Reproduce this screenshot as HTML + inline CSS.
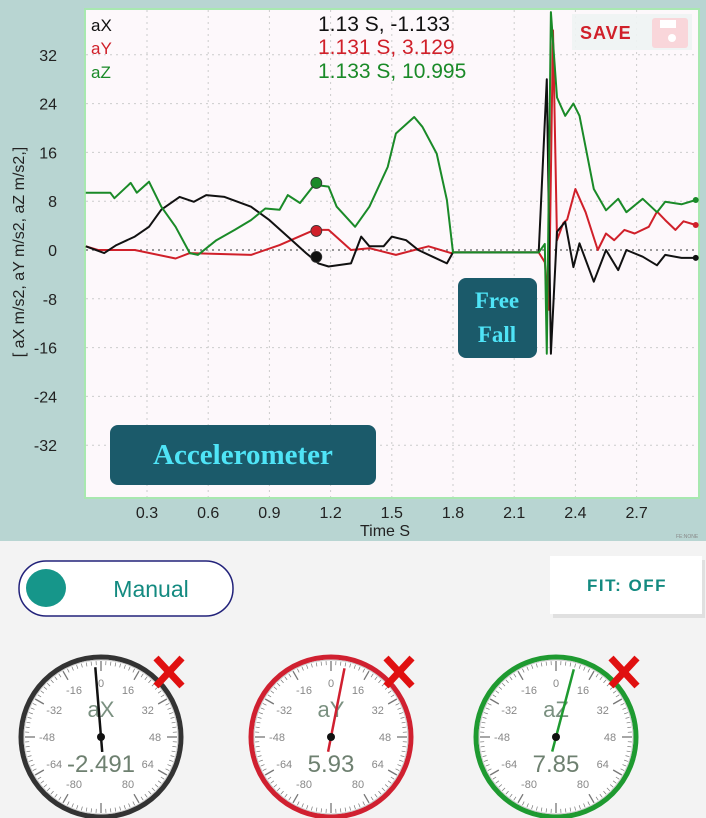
<!DOCTYPE html>
<html><head><meta charset="utf-8"><style>
html,body{margin:0;padding:0;width:706px;height:818px;overflow:hidden;background:#f3f3f3;font-family:"Liberation Sans",sans-serif}
svg{position:absolute;left:0;top:0}
</style></head><body>
<svg width="706" height="818">
<rect x="0" y="0" width="706" height="541" fill="#b8d5d2"/>
<rect x="85" y="9" width="614" height="489" fill="#fdf8fb" stroke="#a8e8b0" stroke-width="2"/>
<g id="grid"></g>
<g id="yticks"></g>
<g id="xticks"></g>
<text x="385" y="536" font-size="16" text-anchor="middle" fill="#222">Time S</text>
<text transform="translate(24,252) rotate(-90)" font-size="16" text-anchor="middle" fill="#222">[ aX m/s2, aY m/s2, aZ m/s2,]</text>
<text x="676" y="538" font-size="5" fill="#888">FE:NONE</text>
<g id="series"></g>
<g>
<text x="91" y="31" font-size="17" fill="#111">aX</text>
<text x="91" y="54" font-size="17" fill="#d0202a">aY</text>
<text x="91" y="78" font-size="17" fill="#1a8a28">aZ</text>
<text x="318" y="31" font-size="21" fill="#111">1.13 S, -1.133</text>
<text x="318" y="54" font-size="21" fill="#d0202a">1.131 S, 3.129</text>
<text x="318" y="78" font-size="21" fill="#1a8a28">1.133 S, 10.995</text>
</g>
<g>
<rect x="572" y="14" width="120" height="36" fill="#eef3f3" opacity="0.9"/>
<text x="580" y="39" font-size="18" font-weight="bold" fill="#d0202a" letter-spacing="1">SAVE</text>
<rect x="652" y="18" width="36" height="30" rx="3" fill="#f9d6da"/>
<circle cx="672" cy="38" r="4" fill="#fff"/>
<rect x="660" y="20" width="16" height="8" fill="#fff"/>
</g>
<g>
<rect x="110" y="425" width="266" height="60" rx="8" fill="#1b5a6a"/>
<text x="243" y="464" font-size="29" font-weight="bold" font-family="'Liberation Serif',serif" fill="#4fe4f7" text-anchor="middle">Accelerometer</text>
</g>
<g>
<rect x="458" y="278" width="79" height="80" rx="8" fill="#1b5a6a"/>
<text x="497" y="308" font-size="23" font-weight="bold" font-family="'Liberation Serif',serif" fill="#4fe4f7" text-anchor="middle">Free</text>
<text x="497" y="342" font-size="23" font-weight="bold" font-family="'Liberation Serif',serif" fill="#4fe4f7" text-anchor="middle">Fall</text>
</g>
<g>
<rect x="19" y="561" width="214" height="55" rx="27" fill="#fff" stroke="#22227a" stroke-width="1.5"/>
<ellipse cx="46" cy="588" rx="20" ry="19" fill="#16968a"/>
<text x="151" y="597" font-size="23" fill="#138a80" text-anchor="middle">Manual</text>
</g>
<g>
<rect x="552" y="558" width="152" height="58" fill="#000" opacity="0.08" transform="translate(1,2)"/>
<rect x="550" y="556" width="152" height="58" fill="#fff"/>
<text x="627" y="591" font-size="17" font-weight="bold" fill="#138a80" text-anchor="middle" letter-spacing="1.5">FIT: OFF</text>
</g>
<g id="gauges"></g>
</svg>
<script>
const NS="http://www.w3.org/2000/svg";
const tX=[0,0.12,0.14,0.22,0.25,0.31,0.37,0.44,0.51,0.55,0.64,0.73,0.81,0.88,0.95,0.99,1.05,1.12,1.19,1.23,1.32,1.39,1.48,1.52,1.61,1.65,1.72,1.77,1.80,2.22,2.25,2.26,2.28,2.31,2.35,2.39,2.42,2.49,2.55,2.61,2.65,2.73,2.80,2.84,2.92,2.99];
const aZ=[9.4,9.4,8.5,11,9.4,11.2,7.1,3.8,-0.5,-0.8,1.6,3.3,4.9,6.8,6.6,9,7.7,10.7,10.4,7.1,3.8,7.1,13.6,19.1,21.8,20.2,15.8,8.2,-0.4,-0.4,1.0,-17,39,25,22,24,22,10,6.5,8.4,6.2,8.4,6.2,7.9,7.5,8.2];
const tY=[0,0.06,0.24,0.44,0.51,0.81,0.95,1.12,1.19,1.30,1.39,1.52,1.68,1.79,1.80,2.22,2.25,2.27,2.29,2.31,2.34,2.36,2.40,2.45,2.51,2.55,2.59,2.64,2.69,2.76,2.80,2.84,2.89,2.93,2.99];
const aY=[0.6,0,0,-1.4,-0.5,-0.8,0.8,3.3,3.3,0,0.3,-0.8,0.6,-0.5,-0.4,-0.4,-2,-9.8,36,1.6,4.4,5,10,6.2,0,2.7,1.6,3.3,2.7,3.8,6.3,4.9,3.3,4.7,4.1];
const tXa=[0,0.09,0.15,0.24,0.31,0.37,0.46,0.53,0.59,0.68,0.81,0.90,0.99,1.08,1.14,1.19,1.30,1.35,1.39,1.46,1.50,1.57,1.63,1.70,1.77,1.80,2.22,2.26,2.28,2.31,2.35,2.39,2.42,2.49,2.55,2.61,2.65,2.73,2.80,2.84,2.92,2.99];
const aX=[0.6,-0.5,0.8,2.2,3.8,6.6,8.7,7.9,9,8.7,7.1,4.9,2.2,-0.5,-2.2,-2.7,-2.2,2.2,0.6,0.6,2.2,1.6,0,-1.1,-2.2,-0.4,-0.4,28,-17,3,4.6,-2.8,1.1,-5.2,0,-3.3,0,-1.1,-2.5,-0.8,-1.3,-1.3];
const yTicks=[32,24,16,8,0,-8,-16,-24,-32];
const xTicks=[0.3,0.6,0.9,1.2,1.5,1.8,2.1,2.4,2.7];
const cursorT=1.13, cursorVals=[-1.133,3.129,10.995];
const gaugeNames=["aX","aY","aZ"], gaugeVals=[-2.491,5.93,7.85], gaugeLabels=[-80,-64,-48,-32,-16,0,16,32,48,64,80];
const colors=["#111","#d0202a","#1a8a28"];
function sx(t){return 85.8+t*204;}
function sy(v){return 250-v*6.1;}
function el(tag,attrs,parent){const e=document.createElementNS(NS,tag);for(const k in attrs)e.setAttribute(k,attrs[k]);parent.appendChild(e);return e;}
const grid=document.getElementById('grid'),yt=document.getElementById('yticks'),xt=document.getElementById('xticks');
yTicks.forEach(v=>{const l=el('line',{x1:86,x2:698,y1:sy(v),y2:sy(v),stroke:v===0?'#777':'#ccc','stroke-dasharray':'2,4','stroke-width':v===0?1.5:1},grid);

const t=el('text',{x:57,y:sy(v)+6,'font-size':16,'text-anchor':'end',fill:'#222'},yt);t.textContent=v;
});
xTicks.forEach(v=>{const l=el('line',{x1:sx(v),x2:sx(v),y1:10,y2:497,stroke:'#ccc','stroke-dasharray':'2,4'},grid);

const t=el('text',{x:sx(v),y:518,'font-size':16,'text-anchor':'middle',fill:'#222'},xt);t.textContent=v;
});
const sg=document.getElementById('series');
[[tY,aY,1],[tXa,aX,0],[tX,aZ,2]].forEach(([ts,vs,ci])=>{
const pts=ts.map((t,i)=>sx(t).toFixed(1)+','+Math.max(9,Math.min(498,sy(vs[i]))).toFixed(1)).join(' ');
const p=el('polyline',{points:pts,fill:'none',stroke:colors[ci],'stroke-width':2,'stroke-linejoin':'round'},sg);

const e=el('circle',{cx:sx(ts[ts.length-1]),cy:sy(vs[vs.length-1]),r:3,fill:colors[ci]},sg);

const c=el('circle',{cx:sx(cursorT),cy:sy(cursorVals[ci]),r:5.5,fill:colors[ci],stroke:'#333','stroke-width':0.8},sg);
});
const gg=document.getElementById('gauges');
const gcx=[101,331,556],gcy=737,R=80,rim=["#333","#d02030","#1e9a30"];
function ang(v){return v*30/16*Math.PI/180;}
gaugeNames.forEach((n,i)=>{
const g=el('g',{},gg);
const cx=gcx[i];
el('circle',{cx:cx,cy:gcy,r:R,fill:'#fff',stroke:rim[i],'stroke-width':5},g);
el('circle',{cx:cx,cy:gcy,r:R-3,fill:'none',stroke:'#ccc','stroke-width':1},g);
for(let v=-96;v<96;v+=2){const a=ang(v),big=v%16===0,r1=R-4,r2=R-(big?14:8);
el('line',{x1:cx+r1*Math.sin(a),y1:gcy-r1*Math.cos(a),x2:cx+r2*Math.sin(a),y2:gcy-r2*Math.cos(a),stroke:'#777','stroke-width':big?1.3:0.7},g);}
gaugeLabels.forEach(v=>{const a=ang(v),r=54;const t=el('text',{x:cx+r*Math.sin(a),y:gcy-r*Math.cos(a)+4,'font-size':11,'text-anchor':'middle',fill:'#888'},g);t.textContent=v;
});
const tl=el('text',{x:cx,y:gcy-20,'font-size':22,'text-anchor':'middle',fill:'#7a9080'},g);tl.textContent=n;

const tv=el('text',{x:cx,y:gcy+35,'font-size':24,'text-anchor':'middle',fill:'#6e8070'},g);tv.textContent=gaugeVals[i];

const a=ang(gaugeVals[i]);
const nd=el('line',{x1:cx-15*Math.sin(a),y1:gcy+15*Math.cos(a),x2:cx+70*Math.sin(a),y2:gcy-70*Math.cos(a),stroke:rim[i]==="#333"?"#111":rim[i],'stroke-width':2.5},g);

el('circle',{cx:cx,cy:gcy,r:4,fill:'#111'},g);
const x=el('g',{},gg);
const xx=cx+68,xy=672;
el('line',{x1:xx-13,y1:xy-14,x2:xx+13,y2:xy+14,stroke:'#e01010','stroke-width':7},x);
el('line',{x1:xx+13,y1:xy-14,x2:xx-13,y2:xy+14,stroke:'#e01010','stroke-width':7},x);
});
</script>
</body></html>
